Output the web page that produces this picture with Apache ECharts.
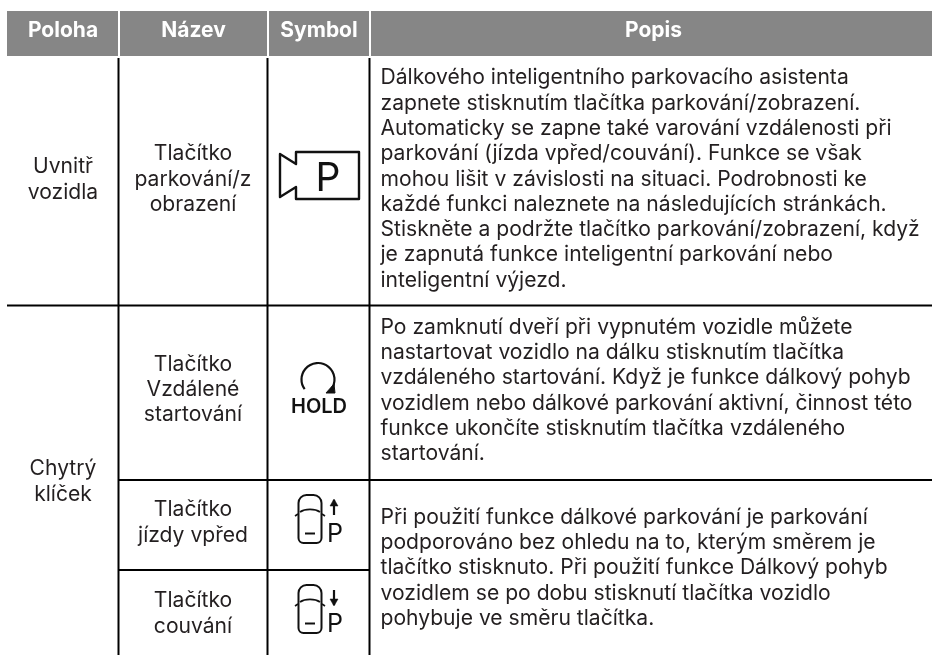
<!DOCTYPE html>
<html>
<head>
<meta charset="utf-8">
<title>Poloha tlačítek</title>
<script src="https://cdn.jsdelivr.net/npm/echarts@6/dist/echarts.min.js"></script>
<style>
  html, body { margin: 0; padding: 0; background: #fff; }
  #chart { width: 932px; height: 655px; }
</style>
</head>
<body>
<div id="chart"></div>
<script>
const HEADERS = ['Poloha', 'Název', 'Symbol', 'Popis']
const LOCATION_INSIDE = ['Uvnitř', 'vozidla']
const LOCATION_KEY = ['Chytrý', 'klíček']
const NAME_VIEW = ['Tlačítko', 'parkování/z', 'obrazení']
const NAME_REMOTE = ['Tlačítko', 'Vzdálené', 'startování']
const NAME_FORWARD = ['Tlačítko', 'jízdy vpřed']
const NAME_REVERSE = ['Tlačítko', 'couvání']
const DESC_VIEW = [
  'Dálkového inteligentního parkovacího asistenta',
  'zapnete stisknutím tlačítka parkování/zobrazení.',
  'Automaticky se zapne také varování vzdálenosti při',
  'parkování (jízda vpřed/couvání). Funkce se však',
  'mohou lišit v závislosti na situaci. Podrobnosti ke',
  'každé funkci naleznete na následujících stránkách.',
  'Stiskněte a podržte tlačítko parkování/zobrazení, když',
  'je zapnutá funkce inteligentní parkování nebo',
  'inteligentní výjezd.',
]
const DESC_REMOTE = [
  'Po zamknutí dveří při vypnutém vozidle můžete',
  'nastartovat vozidlo na dálku stisknutím tlačítka',
  'vzdáleného startování. Když je funkce dálkový pohyb',
  'vozidlem nebo dálkové parkování aktivní, činnost této',
  'funkce ukončíte stisknutím tlačítka vzdáleného',
  'startování.',
]
const DESC_PARK = [
  'Při použití funkce dálkové parkování je parkování',
  'podporováno bez ohledu na to, kterým směrem je',
  'tlačítko stisknuto. Při použití funkce Dálkový pohyb',
  'vozidlem se po dobu stisknutí tlačítka vozidlo',
  'pohybuje ve směru tlačítka.',
]

const FONT = 'Inter, "Noto Sans", sans-serif'
const INK = '#231f20'
const RULE = '#000'
const GREY = '#868686'
const LINE_H = 25.3

const chart = echarts.init(document.getElementById('chart'), null, { renderer: 'canvas' })
const g = []

function label(text, x, y, align, opts) {
  g.push({
    type: 'text',
    silent: true,
    style: Object.assign({
      text, x, y, align, verticalAlign: 'middle',
      font: '400 21.1px ' + FONT, fill: INK,
    }, opts),
  })
}
function lines(list, x, y, align) {
  list.forEach((t, i) => label(t, x, y + i * LINE_H, align))
}
function rule(x1, y1, x2, y2) {
  g.push({ type: 'line', silent: true, shape: { x1, y1, x2, y2 }, style: { stroke: RULE, lineWidth: 2 } })
}
function poly(points, closed, w) {
  g.push({
    type: closed ? 'polygon' : 'polyline', silent: true, shape: { points },
    style: { stroke: '#111', fill: closed && closed !== true ? closed : 'none', lineWidth: w || 2, lineJoin: 'round' },
  })
}

// header bands
const bands = [[7, 118], [120, 267], [269, 369], [371, 932]]
const headerX = [63, 193.5, 319, 653.5]
bands.forEach((b, i) => {
  g.push({ type: 'rect', silent: true, shape: { x: b[0], y: 11, width: b[1] - b[0], height: 45 }, style: { fill: GREY } })
  label(HEADERS[i], headerX[i], 30.5, 'center', { font: '700 21px ' + FONT, fill: '#fff' })
})

// grid rules
rule(118.5, 58, 118.5, 655)
rule(267.5, 58, 267.5, 655)
rule(369.5, 58, 369.5, 655)
rule(7, 305.5, 932, 305.5)
rule(119, 480, 932, 480)
rule(119, 570, 369, 570)

// text cells
lines(LOCATION_INSIDE, 63, 167, 'center')
lines(LOCATION_KEY, 63, 469, 'center')
lines(NAME_VIEW, 193, 154, 'center')
lines(NAME_REMOTE, 193, 364.5, 'center')
lines(NAME_FORWARD, 193, 510, 'center')
lines(NAME_REVERSE, 193, 601, 'center')
lines(DESC_VIEW, 380.5, 78, 'left')
lines(DESC_REMOTE, 380.5, 327.5, 'left')
lines(DESC_PARK, 380.5, 517.5, 'left')

// camera symbol
poly([[280, 154], [296, 164], [296, 152], [359, 152], [359, 199], [296, 199], [296, 187], [280, 197]], true, 2.4)
label('P', 328, 179, 'center', { font: '400 39px ' + FONT, fill: '#111' })

// hold symbol
g.push({
  type: 'arc', silent: true,
  shape: { cx: 318, cy: 379.5, r: 16.5, startAngle: Math.PI * 0.22, endAngle: Math.PI * 0.8, clockwise: false },
  style: { stroke: '#111', fill: 'none', lineWidth: 2.2 },
})
poly([[326, 393], [335, 393], [334, 384]], '#111', 1)
label('HOLD', 319, 407.4, 'center', { font: '600 20px ' + FONT, fill: '#111' })

// car symbols
function car(top, arrowUp) {
  g.push({
    type: 'rect', silent: true,
    shape: { x: 298.5, y: top, width: 23, height: 48, r: [8, 8, 5, 5] },
    style: { stroke: '#111', fill: 'none', lineWidth: 2 },
  })
  g.push({
    type: 'bezierCurve', silent: true,
    shape: { x1: 300, y1: top + 17, cpx1: 305, cpy1: top + 13.5, cpx2: 315, cpy2: top + 13.5, x2: 320, y2: top + 17 },
    style: { stroke: '#111', fill: 'none', lineWidth: 1.8 },
  })
  poly([[305, top + 38.5], [315, top + 38.5]], false, 2)
  poly([[298, top + 19], [295, top + 21]], false, 1.6)
  poly([[322, top + 19], [325, top + 21]], false, 1.6)
  label('P', 335, top + 39, 'center', { font: '400 25px ' + FONT, fill: '#111' })
  const ax = 334, a1 = top + 5, a2 = top + 20
  poly([[ax, a1], [ax, a2]], false, 2.2)
  if (arrowUp) poly([[ax - 4, a1 + 6], [ax, a1 - 1], [ax + 4, a1 + 6]], '#111', 0.5)
  else poly([[ax - 4, a2 - 6], [ax, a2 + 1], [ax + 4, a2 - 6]], '#111', 0.5)
}
car(495, true)
car(585, false)

chart.setOption({ animation: false, graphic: { elements: g } })
window.addEventListener('resize', () => chart.resize())
</script>
</body>
</html>
